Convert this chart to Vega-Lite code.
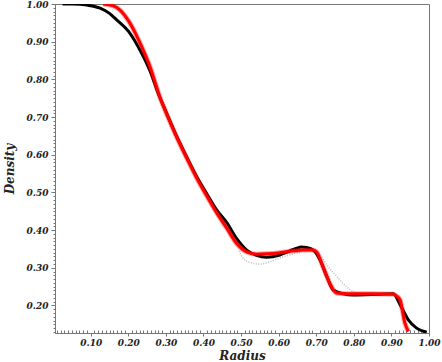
{
  "$schema": "https://vega.github.io/schema/vega-lite/v6.json",
  "width": 374,
  "height": 329,
  "autosize": "none",
  "padding": {"left": 55, "top": 4, "right": 13, "bottom": 29},
  "background": "white",
  "config": {
    "view": {"stroke": "#777", "strokeWidth": 1},
    "axis": {
      "labelFont": "DejaVu Serif",
      "labelFontStyle": "italic",
      "labelFontWeight": "bold",
      "labelFontSize": 9,
      "labelColor": "#222",
      "titleFont": "DejaVu Serif",
      "titleFontStyle": "italic",
      "titleFontWeight": "bold",
      "titleFontSize": 12,
      "titleColor": "#222",
      "domainColor": "#777",
      "tickColor": "#777",
      "grid": false,
      "labelOverlap": false,
      "labelBound": false,
      "labelFlush": false
    }
  },
  "datasets": {
    "curves": [
      {"series": "black", "x": 0.025, "y": 1.0},
      {"series": "black", "x": 0.053, "y": 1.0},
      {"series": "black", "x": 0.09, "y": 0.997},
      {"series": "black", "x": 0.125, "y": 0.989},
      {"series": "black", "x": 0.15, "y": 0.975},
      {"series": "black", "x": 0.169, "y": 0.958},
      {"series": "black", "x": 0.204, "y": 0.923},
      {"series": "black", "x": 0.231, "y": 0.878},
      {"series": "black", "x": 0.258, "y": 0.822},
      {"series": "black", "x": 0.28, "y": 0.762},
      {"series": "black", "x": 0.302, "y": 0.71},
      {"series": "black", "x": 0.329, "y": 0.648},
      {"series": "black", "x": 0.355, "y": 0.595},
      {"series": "black", "x": 0.382, "y": 0.542},
      {"series": "black", "x": 0.408, "y": 0.498},
      {"series": "black", "x": 0.435, "y": 0.454},
      {"series": "black", "x": 0.462, "y": 0.42},
      {"series": "black", "x": 0.488, "y": 0.378},
      {"series": "black", "x": 0.515, "y": 0.347},
      {"series": "black", "x": 0.541, "y": 0.333},
      {"series": "black", "x": 0.568, "y": 0.328},
      {"series": "black", "x": 0.603, "y": 0.334},
      {"series": "black", "x": 0.63, "y": 0.345},
      {"series": "black", "x": 0.648, "y": 0.352},
      {"series": "black", "x": 0.66, "y": 0.355},
      {"series": "black", "x": 0.674, "y": 0.354},
      {"series": "black", "x": 0.692, "y": 0.347},
      {"series": "black", "x": 0.71, "y": 0.321},
      {"series": "black", "x": 0.728, "y": 0.277},
      {"series": "black", "x": 0.745, "y": 0.241},
      {"series": "black", "x": 0.772, "y": 0.231},
      {"series": "black", "x": 0.798, "y": 0.228},
      {"series": "black", "x": 0.869, "y": 0.23},
      {"series": "black", "x": 0.905, "y": 0.231},
      {"series": "black", "x": 0.923, "y": 0.202},
      {"series": "black", "x": 0.945, "y": 0.162},
      {"series": "black", "x": 0.967, "y": 0.14},
      {"series": "black", "x": 0.994, "y": 0.129},
      {"series": "red", "x": 0.133, "y": 1.0},
      {"series": "red", "x": 0.16, "y": 0.995},
      {"series": "red", "x": 0.178, "y": 0.984},
      {"series": "red", "x": 0.204, "y": 0.95},
      {"series": "red", "x": 0.231, "y": 0.897},
      {"series": "red", "x": 0.258, "y": 0.833},
      {"series": "red", "x": 0.284, "y": 0.753},
      {"series": "red", "x": 0.302, "y": 0.708},
      {"series": "red", "x": 0.329, "y": 0.646},
      {"series": "red", "x": 0.355, "y": 0.592},
      {"series": "red", "x": 0.382, "y": 0.538},
      {"series": "red", "x": 0.408, "y": 0.492},
      {"series": "red", "x": 0.435, "y": 0.446},
      {"series": "red", "x": 0.462, "y": 0.405},
      {"series": "red", "x": 0.488, "y": 0.365},
      {"series": "red", "x": 0.515, "y": 0.342},
      {"series": "red", "x": 0.541, "y": 0.336},
      {"series": "red", "x": 0.568, "y": 0.337},
      {"series": "red", "x": 0.603, "y": 0.34},
      {"series": "red", "x": 0.64, "y": 0.345},
      {"series": "red", "x": 0.665, "y": 0.347},
      {"series": "red", "x": 0.69, "y": 0.347},
      {"series": "red", "x": 0.7, "y": 0.343},
      {"series": "red", "x": 0.718, "y": 0.303},
      {"series": "red", "x": 0.736, "y": 0.259},
      {"series": "red", "x": 0.754, "y": 0.233},
      {"series": "red", "x": 0.78, "y": 0.231},
      {"series": "red", "x": 0.85, "y": 0.231},
      {"series": "red", "x": 0.905, "y": 0.23},
      {"series": "red", "x": 0.914, "y": 0.225},
      {"series": "red", "x": 0.923, "y": 0.215},
      {"series": "red", "x": 0.936, "y": 0.153},
      {"series": "red", "x": 0.945, "y": 0.131},
      {"series": "spreadA", "x": 0.495, "y": 0.345},
      {"series": "spreadA", "x": 0.505, "y": 0.326},
      {"series": "spreadA", "x": 0.524, "y": 0.314},
      {"series": "spreadA", "x": 0.55, "y": 0.31},
      {"series": "spreadA", "x": 0.577, "y": 0.316},
      {"series": "spreadA", "x": 0.603, "y": 0.326},
      {"series": "spreadA", "x": 0.63, "y": 0.334},
      {"series": "spreadA", "x": 0.66, "y": 0.342},
      {"series": "spreadB", "x": 0.69, "y": 0.35},
      {"series": "spreadB", "x": 0.71, "y": 0.335},
      {"series": "spreadB", "x": 0.73, "y": 0.305},
      {"series": "spreadB", "x": 0.755, "y": 0.277},
      {"series": "spreadB", "x": 0.78, "y": 0.25},
      {"series": "spreadB", "x": 0.8, "y": 0.236},
      {"series": "spreadB", "x": 0.82, "y": 0.232}
    ]
  },
  "data": {"name": "curves"},
  "encoding": {
    "x": {
      "field": "x",
      "type": "quantitative",
      "scale": {"domain": [0.005, 1.0], "nice": false, "zero": false},
      "axis": {
        "title": "Radius",
        "titleY": 26,
        "titleBaseline": "alphabetic",
        "tickCount": 100,
        "labelExpr": "abs(datum.value*10-round(datum.value*10))<0.001 ? format(datum.value,'.2f') : ''",
        "tickSize": {"condition": {"test": "abs(datum.value*10-round(datum.value*10))<0.001", "value": 3}, "value": -3},
        "labelPadding": 2
      }
    },
    "y": {
      "field": "y",
      "type": "quantitative",
      "scale": {"domain": [0.127, 1.0], "nice": false, "zero": false},
      "axis": {
        "title": "Density",
        "titlePadding": 10,
        "tickCount": 100,
        "labelExpr": "abs(datum.value*10-round(datum.value*10))<0.001 ? format(datum.value,'.2f') : ''",
        "tickSize": {"condition": {"test": "abs(datum.value*10-round(datum.value*10))<0.001", "value": 4}, "value": 2},
        "labelPadding": 3
      }
    }
  },
  "layer": [
    {
      "transform": [{"filter": "indexof(datum.series, 'spread') == 0"}],
      "mark": {"type": "line", "interpolate": "monotone", "color": "#666", "strokeWidth": 1.5, "strokeDash": [1, 1.5], "opacity": 0.45, "clip": true},
      "encoding": {"detail": {"field": "series"}}
    },
    {
      "transform": [{"filter": "datum.series == 'black'"}],
      "mark": {"type": "line", "interpolate": "monotone", "color": "#000", "strokeWidth": 3, "clip": true},
      "encoding": {}
    },
    {
      "transform": [{"filter": "datum.series == 'red'"}],
      "mark": {"type": "line", "interpolate": "monotone", "color": "#ff0000", "strokeWidth": 5, "opacity": 0.35, "clip": true},
      "encoding": {}
    },
    {
      "transform": [{"filter": "datum.series == 'red'"}],
      "mark": {"type": "line", "interpolate": "monotone", "color": "#ff0000", "strokeWidth": 3, "clip": true},
      "encoding": {}
    }
  ]
}
